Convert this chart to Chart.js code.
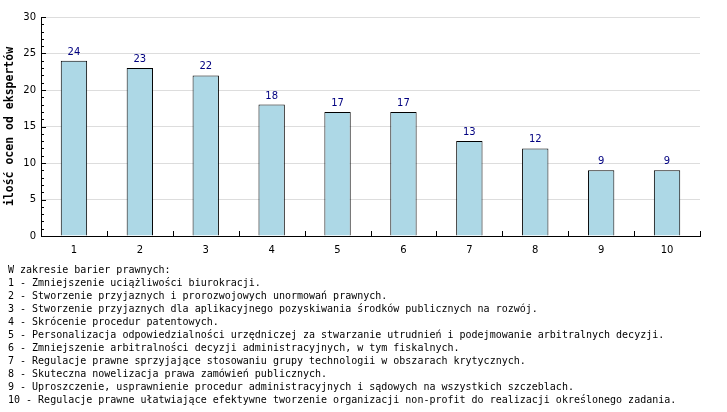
<!DOCTYPE html>
<html>
<head>
<meta charset="utf-8">
<script src="https://cdn.jsdelivr.net/npm/chart.js@4/dist/chart.umd.min.js"></script>
<style>
  body { margin: 0; background: #fff; }
  #wrap { position: relative; width: 727px; height: 412px; }
  #notes {
    position: absolute; left: 8px; top: 263px;
    font: 10px "DejaVu Sans Mono", monospace; line-height: 13px;
    color: #000; white-space: pre;
  }
</style>
</head>
<body>
<div id="wrap">
  <canvas id="barChart" width="727" height="412"></canvas>
  <div id="notes"></div>
</div>
<script>
const categories = ['1', '2', '3', '4', '5', '6', '7', '8', '9', '10'];
const scores = [24, 23, 22, 18, 17, 17, 13, 12, 9, 9];
const yTicks = [0, 5, 10, 15, 20, 25, 30];
const notes = [
    'W zakresie barier prawnych:',
    '1 - Zmniejszenie uciążliwości biurokracji.',
    '2 - Stworzenie przyjaznych i prorozwojowych unormowań prawnych.',
    '3 - Stworzenie przyjaznych dla aplikacyjnego pozyskiwania środków publicznych na rozwój.',
    '4 - Skrócenie procedur patentowych.',
    '5 - Personalizacja odpowiedzialności urzędniczej za stwarzanie utrudnień i podejmowanie arbitralnych decyzji.',
    '6 - Zmniejszenie arbitralności decyzji administracyjnych, w tym fiskalnych.',
    '7 - Regulacje prawne sprzyjające stosowaniu grupy technologii w obszarach krytycznych.',
    '8 - Skuteczna nowelizacja prawa zamówień publicznych.',
    '9 - Uproszczenie, usprawnienie procedur administracyjnych i sądowych na wszystkich szczeblach.',
    '10 - Regulacje prawne ułatwiające efektywne tworzenie organizacji non-profit do realizacji określonego zadania.'
];

document.getElementById('notes').textContent = notes.join('\n');

// ticks drawn inside the plot + value labels above bars
const extras = {
    id: 'extras',
    afterDatasetsDraw(chart) {
        const ctx = chart.ctx;
        const x = chart.scales.x;
        const y = chart.scales.y;
        const area = chart.chartArea;
        ctx.save();
        ctx.strokeStyle = '#000';
        ctx.lineWidth = 1;
        ctx.beginPath();
        for (let v = 1; v <= 30; v++) {
            const py = Math.round(y.getPixelForValue(v)) + 0.5;
            const len = v % 5 === 0 ? 5 : 3;
            ctx.moveTo(area.left, py);
            ctx.lineTo(area.left + len, py);
        }
        for (let i = 0; i < categories.length; i++) {
            let px;
            if (i < categories.length - 1) {
                px = (x.getPixelForTick(i) + x.getPixelForTick(i + 1)) / 2;
            } else {
                px = area.right;
            }
            px = Math.round(px) + 0.5;
            ctx.moveTo(px, area.bottom);
            ctx.lineTo(px, area.bottom - 5);
        }
        ctx.stroke();

        ctx.fillStyle = '#000080';
        ctx.font = '10px "DejaVu Sans", Verdana, sans-serif';
        ctx.textAlign = 'center';
        ctx.textBaseline = 'alphabetic';
        chart.getDatasetMeta(0).data.forEach((bar, i) => {
            ctx.fillText(scores[i], bar.x, bar.y - 6);
        });
        ctx.restore();
    }
};

new Chart(document.getElementById('barChart'), {
    type: 'bar',
    data: {
        labels: categories,
        datasets: [{
            data: scores,
            backgroundColor: '#ADD8E6',
            borderColor: '#000',
            borderWidth: 1,
            barPercentage: 0.4,
            categoryPercentage: 1
        }]
    },
    options: {
        responsive: false,
        animation: false,
        layout: { padding: { top: 17, right: 27, left: 0, bottom: 0 } },
        plugins: {
            legend: { display: false },
            tooltip: { enabled: false }
        },
        scales: {
            x: {
                grid: { display: false },
                border: { color: '#000', width: 1 },
                ticks: {
                    color: '#000',
                    padding: 0,
                    font: { family: '"DejaVu Sans", Verdana, sans-serif', size: 10 }
                },
                afterFit: s => { s.height = 176; }
            },
            y: {
                min: 0,
                max: 30,
                afterBuildTicks: s => { s.ticks = yTicks.map(v => ({ value: v })); },
                grid: { color: '#dddddd', drawTicks: false },
                border: { color: '#000', width: 1 },
                ticks: {
                    color: '#000',
                    padding: 5,
                    font: { family: '"DejaVu Sans", Verdana, sans-serif', size: 10 }
                },
                title: {
                    display: true,
                    text: 'ilość ocen od ekspertów',
                    color: '#000',
                    padding: { top: 3, bottom: 0 },
                    font: { family: '"DejaVu Sans Mono", monospace', size: 11.5, weight: 'bold' }
                },
                afterFit: s => { s.width = 41; }
            }
        }
    },
    plugins: [extras]
});
</script>
</body>
</html>
